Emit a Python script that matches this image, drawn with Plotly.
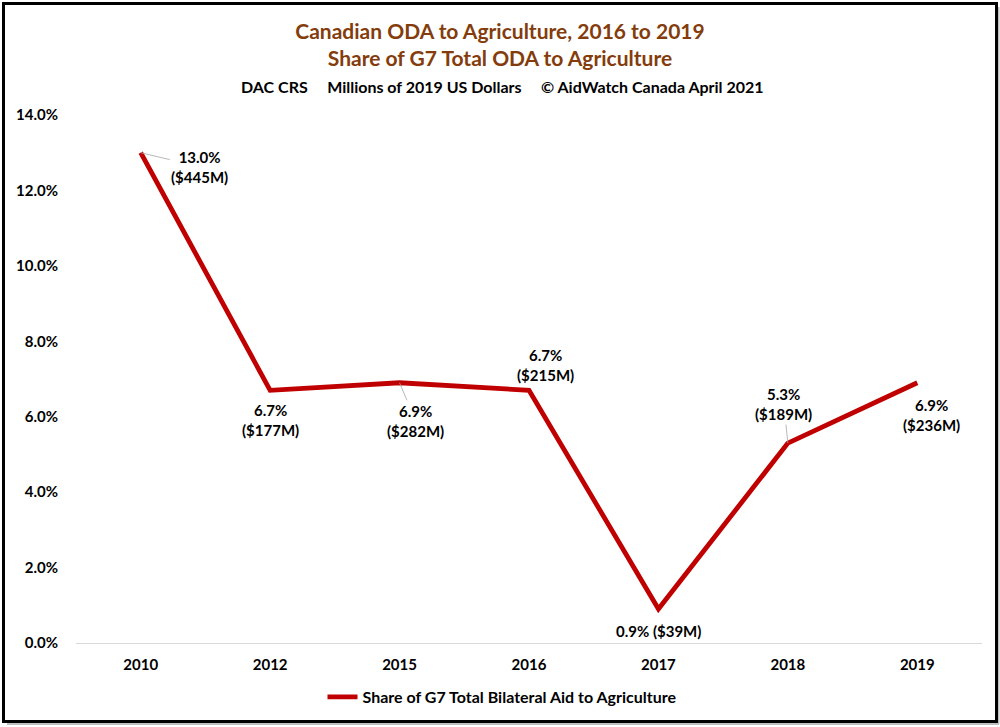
import plotly.graph_objects as go

# Canadian share of G7 bilateral aid to agriculture
years = ["2010", "2012", "2015", "2016", "2017", "2018", "2019"]
share_pct = [13.0, 6.7, 6.9, 6.7, 0.9, 5.3, 6.9]
usd_millions = [445, 177, 282, 215, 39, 189, 236]
y_ticks = [0, 2, 4, 6, 8, 10, 12, 14]

W, H = 1000, 727
L, R, T, B = 76, 18, 115, 84
PW, PH = W - L - R, H - T - B

PCT = "&#37;"
DOLLAR = "&#36;"


def px_x(p):
    return (p - L) / PW


def px_y(p):
    return (H - B - p) / PH


FONT = "Lato"
RED = "#C00000"
BROWN = "#843C0C"

fig = go.Figure()
fig.add_trace(go.Scatter(
    x=years, y=share_pct, mode="lines",
    line=dict(color=RED, width=4.8),
    name="Share of G7 Total Bilateral Aid to Agriculture",
    hoverinfo="x+y",
))

# label placement per point: (dx, dy, leader line?)
placement = [
    (59, 14, True),
    (0, 30, False),
    (16, 38, True),
    (16, -25, False),
    (0, 22, False),
    (-4, -39, True),
    (14, 32, False),
]

# category axes place annotations by category index
for i, (yr, v, m, (dx, dy, lead)) in enumerate(zip(years, share_pct, usd_millions, placement)):
    pct = f"{v:.1f}{PCT}"
    amt = f"({DOLLAR}{m}M)"
    txt = f"<b>{pct} {amt}</b>" if yr == "2017" else f"<b>{pct}</b><br><b>{amt}</b>"
    common = dict(x=i, y=v, xref="x", yref="y", text=txt,
                  font=dict(family=FONT, size=15, color="black", weight="bold"))
    if lead:
        fig.add_annotation(**common, showarrow=True, ax=dx, ay=dy,
                           arrowhead=0, arrowwidth=0.8, arrowcolor="#a6a6a6")
    else:
        fig.add_annotation(**common, showarrow=False, xshift=dx, yshift=-dy)

# subtitle line
fig.add_annotation(
    x=px_x(502), y=px_y(86), xref="paper", yref="paper", showarrow=False,
    text="<b>DAC CRS&nbsp;&nbsp;&nbsp;&nbsp;&nbsp;Millions of 2019 US Dollars&nbsp;&nbsp;&nbsp;&nbsp;&nbsp;© AidWatch Canada April 2021</b>",
    font=dict(family=FONT, size=16, color="black"),
    xanchor="center", yanchor="middle",
)

# frame around the whole chart with a soft shadow
fig.add_shape(type="line", xref="paper", yref="paper",
              x0=px_x(998.5), x1=px_x(998.5), y0=px_y(7), y1=px_y(724),
              line=dict(color="#bfbfbf", width=2), layer="above")
fig.add_shape(type="line", xref="paper", yref="paper",
              x0=px_x(7), x1=px_x(999), y0=px_y(724), y1=px_y(724),
              line=dict(color="#bfbfbf", width=2), layer="above")
fig.add_shape(type="rect", xref="paper", yref="paper",
              x0=px_x(3.5), x1=px_x(996.5), y0=px_y(3.5), y1=px_y(721.5),
              line=dict(color="black", width=3), fillcolor="rgba(0,0,0,0)",
              layer="above")

fig.update_layout(
    width=W, height=H,
    margin=dict(l=L, r=R, t=T, b=B, pad=0, autoexpand=False),
    paper_bgcolor="white", plot_bgcolor="white",
    title=dict(
        text="<b>Canadian ODA to Agriculture, 2016 to 2019</b><br><b>Share of G7 Total ODA to Agriculture</b>",
        font=dict(family=FONT, size=21, color=BROWN),
        x=0.5, xref="container", xanchor="center",
        y=1 - 39 / H, yref="container", yanchor="middle",
    ),
    showlegend=True,
    legend=dict(
        orientation="h", x=px_x(502), xanchor="center", xref="paper",
        y=px_y(697), yanchor="middle", yref="paper",
        bgcolor="rgba(0,0,0,0)",
        font=dict(family=FONT, size=16, color="black", weight="bold"),
    ),
    xaxis=dict(
        type="category", range=[-0.5, 6.5], automargin=False,
        showgrid=False, zeroline=False,
        showline=True, linecolor="#d9d9d9", linewidth=1,
        ticks="", ticklabelstandoff=8,
        tickfont=dict(family=FONT, size=15, color="black", weight="bold"),
    ),
    yaxis=dict(
        range=[0, 14], tickvals=y_ticks, automargin=False,
        ticktext=[f"<b>{t:.1f}{PCT}</b>" for t in y_ticks],
        showgrid=False, zeroline=False, showline=False,
        ticks="", ticklabelstandoff=17,
        tickfont=dict(family=FONT, size=15, color="black", weight="bold"),
    ),
)

fig.write_html("out.html")
